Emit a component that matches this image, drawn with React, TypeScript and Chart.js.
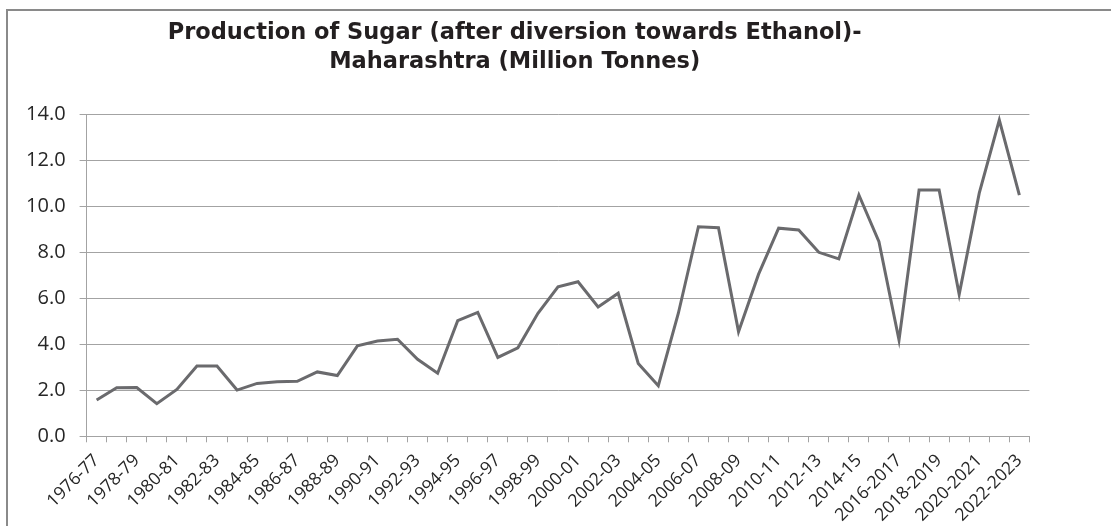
import React, { useEffect, useRef } from "react";
import { Chart, registerables } from "chart.js";

Chart.register(...registerables);

const seasons: string[] = [
  "1976-77", "1977-78", "1978-79", "1979-80", "1980-81", "1981-82", "1982-83", "1983-84",
  "1984-85", "1985-86", "1986-87", "1987-88", "1988-89", "1989-90", "1990-91", "1991-92",
  "1992-93", "1993-94", "1994-95", "1995-96", "1996-97", "1997-98", "1998-99", "1999-00",
  "2000-01", "2001-02", "2002-03", "2003-04", "2004-05", "2005-06", "2006-07", "2007-08",
  "2008-09", "2009-10", "2010-11", "2011-12", "2012-13", "2013-14", "2014-15", "2015-16",
  "2016-2017", "2017-2018", "2018-2019", "2019-2020", "2020-2021", "2021-2022", "2022-2023",
];

const sugarProduction: number[] = [
  1.58, 2.11, 2.12, 1.42, 2.04, 3.06, 3.06, 2.01,
  2.3, 2.37, 2.39, 2.8, 2.64, 3.93, 4.14, 4.22,
  3.35, 2.74, 5.03, 5.39, 3.43, 3.85, 5.35, 6.5,
  6.72, 5.62, 6.22, 3.17, 2.2, 5.35, 9.11, 9.07,
  4.55, 7.05, 9.05, 8.97, 8.0, 7.71, 10.49, 8.46,
  4.19, 10.71, 10.71, 6.17, 10.57, 13.75, 10.49,
];

const titleLines: string[] = [
  "Production of Sugar (after diversion towards Ethanol)-",
  "Maharashtra (Million Tonnes)",
];

const yMin = 0;
const yMax = 14;
const yStep = 2;

export default function App() {
  const canvasRef = useRef<HTMLCanvasElement | null>(null);

  useEffect(() => {
    if (!canvasRef.current) return;
    const gridColor = "#a3a3a3";
    const textColor = "#262626";
    const chart = new Chart(canvasRef.current, {
      type: "line",
      data: {
        labels: seasons,
        datasets: [
          {
            label: "Production of Sugar",
            data: sugarProduction,
            borderColor: "#6a6a6d",
            borderWidth: 3,
            pointRadius: 0,
            pointHoverRadius: 0,
            tension: 0,
            fill: false,
            borderJoinStyle: "miter",
          },
        ],
      },
      options: {
        animation: false,
        responsive: true,
        maintainAspectRatio: false,
        layout: { padding: { left: 0, right: 34.6, top: 0, bottom: 0 } },
        plugins: {
          legend: { display: false },
          tooltip: { enabled: false },
          title: {
            display: true,
            text: titleLines,
            color: "#231f20",
            font: { family: "'DejaVu Sans'", size: 22.5, weight: "bold", lineHeight: 1.28 },
            padding: { top: 18.6, bottom: 38.1 },
          },
        },
        scales: {
          x: {
            type: "category",
            offset: true,
            grid: {
              display: true,
              drawOnChartArea: false,
              drawTicks: true,
              tickLength: 6,
              color: gridColor,
              offset: true,
            },
            border: { display: true, color: gridColor, width: 1 },
            ticks: {
              autoSkip: false,
              maxRotation: 45,
              minRotation: 45,
              padding: 8,
              color: textColor,
              font: { family: "'Open Sans'", size: 17.5 },
              callback: (_v: any, idx: number) => (idx % 2 === 0 ? seasons[idx] : ""),
            },
            afterFit: (scale: any) => {
              scale.height = 89.7;
            },
          },
          y: {
            min: yMin,
            max: yMax,
            grid: {
              color: gridColor,
              tickLength: 7,
              drawTicks: true,
            },
            border: { display: true, color: gridColor, width: 1 },
            ticks: {
              stepSize: yStep,
              padding: 14,
              color: textColor,
              font: { family: "'Open Sans'", size: 20 },
              callback: (v: any) => Number(v).toFixed(1),
            },
            afterFit: (scale: any) => {
              scale.width = 86.6;
            },
          },
        },
      },
    });
    return () => chart.destroy();
  }, []);

  return (
    <div
      style={{
        position: "fixed",
        left: 0,
        top: 0,
        width: 1111,
        height: 526,
        background: "#ffffff",
        overflow: "hidden",
      }}
    >
      <div style={{ position: "absolute", left: 0, top: 0, width: 1064, height: 526 }}>
        <canvas ref={canvasRef} />
      </div>
      <div
        style={{
          position: "absolute",
          left: 6,
          top: 9,
          width: 1200,
          height: 600,
          border: "2px solid #8a8a8a",
          boxSizing: "border-box",
          pointerEvents: "none",
        }}
      />
    </div>
  );
}
